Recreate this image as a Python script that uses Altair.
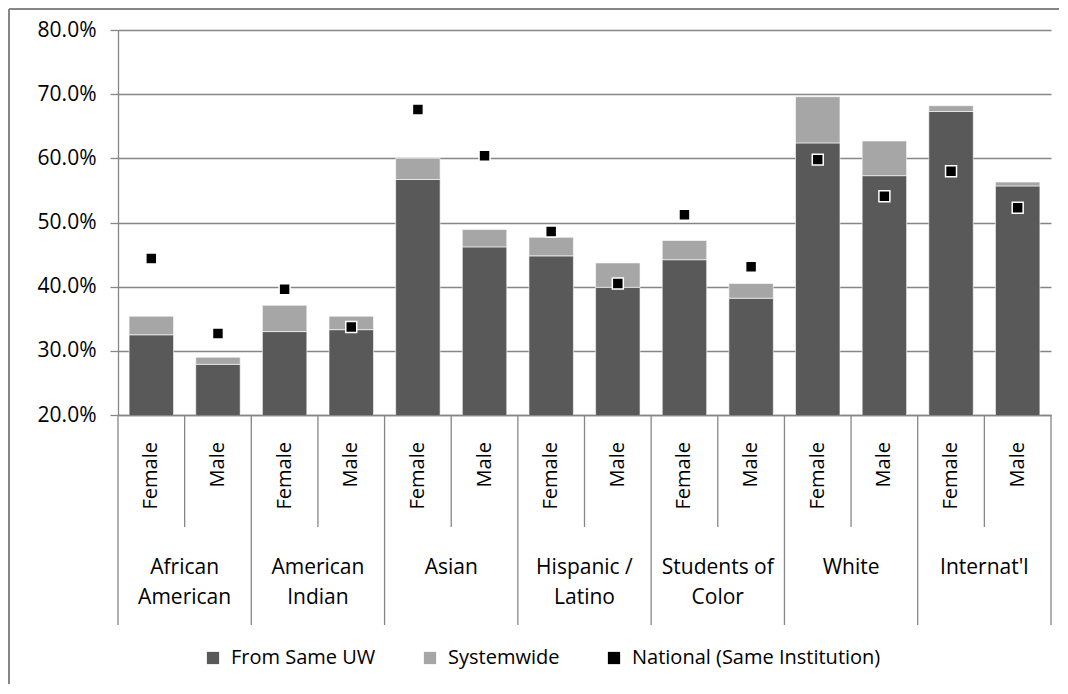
import altair as alt
import pandas as pd

groups = ["African American", "American Indian", "Asian", "Hispanic / Latino",
          "Students of Color", "White", "Internat'l"]
group_labels = ["African\nAmerican", "American\nIndian", "Asian", "Hispanic /\nLatino",
                "Students of\nColor", "White", "Internat'l"]
genders = ["Female", "Male"]

# percent values, in order group x gender
same_uw = [32.5, 27.9, 33.0, 33.3, 56.7, 46.2, 44.8, 39.9, 44.2, 38.2, 62.4, 57.3, 67.3, 55.7]
systemwide = [2.9, 1.1, 4.1, 2.1, 3.3, 2.7, 2.9, 3.8, 3.0, 2.3, 7.2, 5.4, 0.9, 0.6]
national = [44.4, 32.7, 39.6, 33.7, 67.6, 60.4, 48.6, 40.5, 51.2, 43.1, 59.8, 54.1, 58.0, 52.3]

series = ["From Same UW", "Systemwide", "National (Same Institution)"]
colors = ["#595959", "#a6a6a6", "#000000"]
y_ticks = [0.2, 0.3, 0.4, 0.5, 0.6, 0.7, 0.8]

keys, key_gender, key_group, key_glabel = [], [], [], []
for gi, g in enumerate(groups):
    for s in genders:
        keys.append(f"{g}|{s}")
        key_gender.append(s)
        key_group.append(g)
        key_glabel.append(group_labels[gi])

bar_rows = []
for i, k in enumerate(keys):
    bar_rows.append({"key": k, "series": series[0], "value": same_uw[i] / 100, "ord": 0})
    bar_rows.append({"key": k, "series": series[1], "value": systemwide[i] / 100, "ord": 1})
bars_df = pd.DataFrame(bar_rows)
pts_df = pd.DataFrame({"key": keys, "series": series[2], "value": [v / 100 for v in national]})
lab_df = pd.DataFrame({"key": keys, "gender": key_gender, "glabel": key_glabel})

GRAY = "#868686"
FONT = "Open Sans"

xscale = alt.Scale(domain=keys, paddingInner=0, paddingOuter=0)
yscale = alt.Scale(domain=[0.2, 0.8])
cscale = alt.Scale(domain=series, range=colors)

xenc = alt.X("key:N", scale=xscale,
             axis=alt.Axis(labels=False, ticks=False, title=None, domainColor=GRAY,
                           domainWidth=1.3, grid=False))

bars = alt.Chart(bars_df).mark_bar(
    clip=True, width=alt.RelativeBandSize(0.667), stroke="#ffffff", strokeWidth=0.6
).encode(
    x=xenc,
    y=alt.Y("value:Q", stack="zero", scale=yscale,
            axis=alt.Axis(format=".1%", values=y_ticks, tickSize=8, labelPadding=14,
                          labelFontSize=21, labelFont=FONT, labelColor="black",
                          domainColor=GRAY, tickColor=GRAY, gridColor=GRAY,
                          domainWidth=1.3, tickWidth=1.3, gridWidth=1.3, title=None)),
    color=alt.Color("series:N", scale=cscale,
                    legend=alt.Legend(orient="none", legendX=85, legendY=618,
                                      direction="horizontal", title=None,
                                      symbolType="square", symbolSize=150,
                                      symbolStrokeWidth=0, labelFontSize=20,
                                      labelFont=FONT, labelColor="black",
                                      labelLimit=500, columnPadding=44, labelOffset=8)),
    order=alt.Order("ord:Q"),
)

points = alt.Chart(pts_df).mark_point(
    shape="square", filled=True, size=120, stroke="white", strokeWidth=1.5, opacity=1
).encode(
    x=alt.X("key:N", scale=xscale),
    y=alt.Y("value:Q", scale=yscale),
    color=alt.Color("series:N", scale=cscale),
)

sub_labels = alt.Chart(lab_df).mark_text(
    angle=270, align="right", baseline="middle", fontSize=20, font=FONT, color="black"
).encode(
    x=alt.X("key:N", scale=xscale),
    y=alt.value(412),
    text="gender:N",
)

group_text = alt.Chart(lab_df[lab_df["gender"] == "Female"]).mark_text(
    align="center", baseline="alphabetic", fontSize=21, font=FONT, color="black",
    lineBreak="\n", lineHeight=30, dx=33.3
).encode(
    x=alt.X("key:N", scale=xscale),
    y=alt.value(544),
    text="glabel:N",
)

short_rules = alt.Chart(lab_df[lab_df["gender"] == "Male"]).mark_rule(
    color=GRAY, strokeWidth=1.3
).encode(
    x=alt.X("key:N", scale=xscale, bandPosition=0),
    y=alt.value(385), y2=alt.value(497),
)

long_rules = alt.Chart(lab_df[lab_df["gender"] == "Female"]).mark_rule(
    color=GRAY, strokeWidth=1.3
).encode(
    x=alt.X("key:N", scale=xscale, bandPosition=0),
    y=alt.value(385), y2=alt.value(595),
)

end_rule = alt.Chart(lab_df.tail(1)).mark_rule(
    color=GRAY, strokeWidth=1.3
).encode(
    x=alt.X("key:N", scale=xscale, bandPosition=1),
    y=alt.value(385), y2=alt.value(595),
)

frame_df = pd.DataFrame({"a": [0]})
frame_top = alt.Chart(frame_df).mark_rule(color=GRAY, strokeWidth=2).encode(
    x=alt.value(-109), x2=alt.value(941), y=alt.value(-21)
)
frame_left = alt.Chart(frame_df).mark_rule(color=GRAY, strokeWidth=2).encode(
    x=alt.value(-109), y=alt.value(-21), y2=alt.value(654)
)

chart = alt.layer(
    frame_top, frame_left, bars, points, sub_labels, group_text,
    short_rules, long_rules, end_rule
).properties(
    width=933, height=385,
    autosize=alt.AutoSizeParams(type="none"),
    padding={"left": 110, "top": 22, "right": 9, "bottom": 270},
).configure_view(stroke=None)

chart.save("out.html", embed_options={"renderer": "svg", "actions": False})
